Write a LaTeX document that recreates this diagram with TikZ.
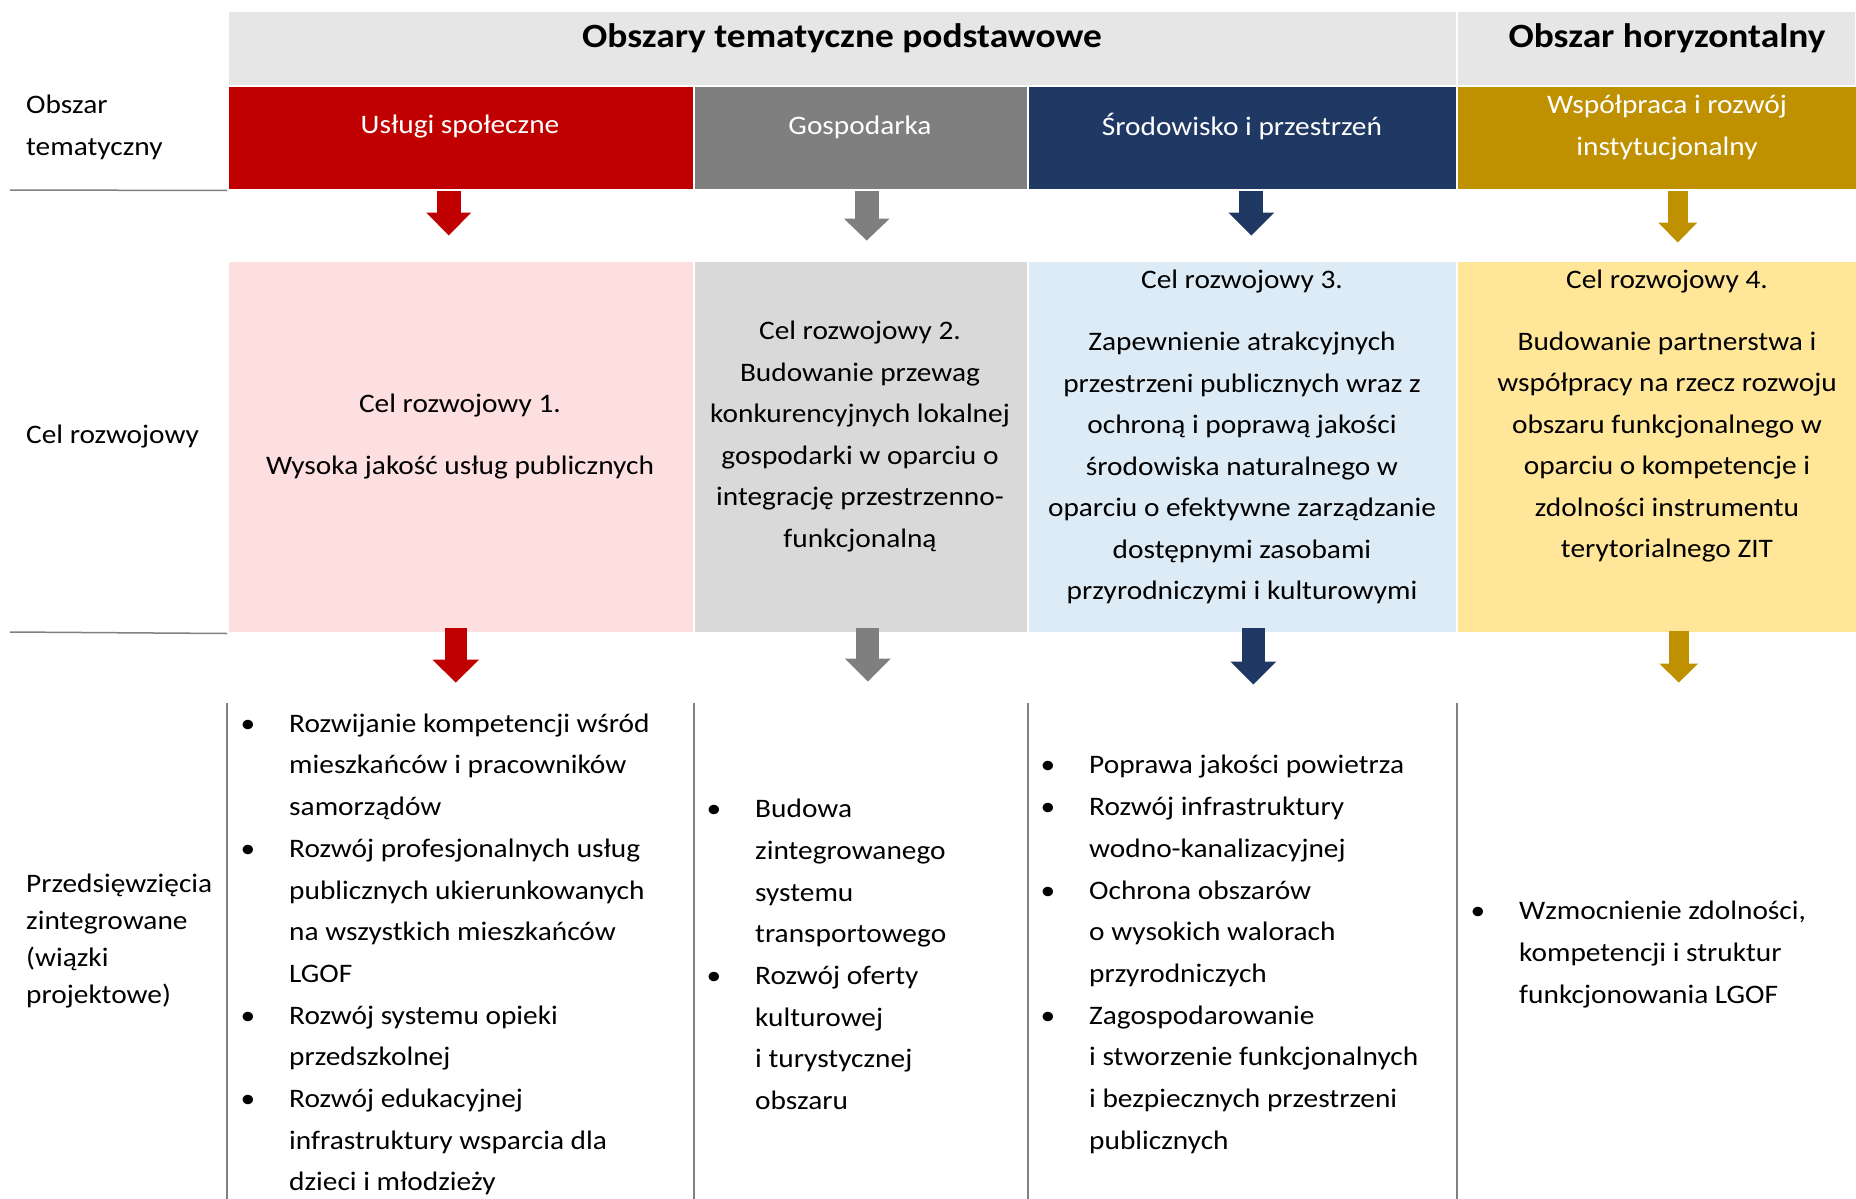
\documentclass[tikz,border=0pt]{standalone}
\usepackage{fontspec}
\setmainfont[FakeStretch=1.1]{Carlito}
\usetikzlibrary{arrows.meta}

\definecolor{hdgray}{HTML}{E6E6E6}
\definecolor{usred}{HTML}{C00000}
\definecolor{gogray}{HTML}{7F7F7F}
\definecolor{srnavy}{HTML}{203864}
\definecolor{wpgold}{HTML}{BF9000}
\definecolor{uslight}{HTML}{FDDFE0}
\definecolor{golight}{HTML}{D9D9D9}
\definecolor{srlight}{HTML}{DDEBF7}
\definecolor{wplight}{HTML}{FFE699}
\definecolor{rulegray}{HTML}{808080}

\newcommand{\itm}{\llap{\textbullet\hspace{34pt}}}

\tikzset{
  cell/.style={draw=white, line width=1.5pt, anchor=north west, inner sep=0pt},
  txt/.style={font=\fontsize{26.7pt}{41.5pt}\selectfont, align=center, inner sep=0pt},
  head/.style={font=\fontsize{34pt}{40pt}\selectfont\bfseries, inner sep=0pt},
  lst/.style={font=\fontsize{26.7pt}{41.7pt}\selectfont, align=left, inner sep=0pt, anchor=west},
  rule/.style={draw=rulegray, line width=1.5pt},
  blk/.style n args={4}{draw=#1, line width=#2, -{Triangle[width=#3, length=#4, line width=0pt]}}
}

\begin{document}
\begin{tikzpicture}[x=1pt, y=-1pt]
\useasboundingbox (0,0) rectangle (1856,1199);

% naglowki
\node[cell, fill=hdgray, minimum width=1229pt, minimum height=74pt] (bp) at (227,11) {};
\node[cell, fill=hdgray, minimum width=399pt, minimum height=74pt] (bh) at (1456,11) {};
\node[head] (tbp) at (842,38) {Obszary tematyczne podstawowe};
\node[head] (tbh) at (1667,38) {Obszar horyzontalny};

% obszary tematyczne
\node[cell, fill=usred, minimum width=466pt, minimum height=103pt] (us) at (227,86) {};
\node[cell, fill=gogray, minimum width=334pt, minimum height=103pt] (go) at (693,86) {};
\node[cell, fill=srnavy, minimum width=429pt, minimum height=103pt] (sr) at (1027,86) {};
\node[cell, fill=wpgold, minimum width=400pt, minimum height=103pt] (wp) at (1456,86) {};
\node[txt, text=white] (tus) at (460,127) {Usługi społeczne};
\node[txt, text=white] (tgo) at (860,127) {Gospodarka};
\node[txt, text=white] (tsr) at (1242,127) {Środowisko i przestrzeń};
\node[txt, text=white] (twp) at (1667,127.5) {Współpraca i rozwój\\instytucjonalny};

% cele rozwojowe
\node[cell, fill=uslight, minimum width=466pt, minimum height=372pt] (c1) at (227,260) {};
\node[cell, fill=golight, minimum width=334pt, minimum height=372pt] (c2) at (693,260) {};
\node[cell, fill=srlight, minimum width=429pt, minimum height=372pt] (c3) at (1027,260) {};
\node[cell, fill=wplight, minimum width=400pt, minimum height=372pt] (c4) at (1456,260) {};
\node[txt] (tc1) at (460,436.5) {Cel rozwojowy 1.\\[20.5pt]Wysoka jakość usług publicznych};
\node[txt] (tc2) at (860,436.5) {Cel rozwojowy 2.\\Budowanie przewag\\konkurencyjnych lokalnej\\gospodarki w oparciu o\\integrację przestrzenno-\\funkcjonalną};
\node[txt] (tc3) at (1242,437) {Cel rozwojowy 3.\\[20.5pt]Zapewnienie atrakcyjnych\\przestrzeni publicznych wraz z\\ochroną i poprawą jakości\\środowiska naturalnego w\\oparciu o efektywne zarządzanie\\dostępnymi zasobami\\przyrodniczymi i kulturowymi};
\node[txt] (tc4) at (1667,416) {Cel rozwojowy 4.\\[20.5pt]Budowanie partnerstwa i\\współpracy na rzecz rozwoju\\obszaru funkcjonalnego w\\oparciu o kompetencje i\\zdolności instrumentu\\terytorialnego ZIT};

% strzalki
\draw[blk={usred}{24pt}{45pt}{23pt}] ([xshift=-12pt]us.south) -- ++(0,45);
\draw[blk={gogray}{24pt}{46pt}{22pt}] ([xshift=6pt]go.south) -- ++(0,50);
\draw[blk={srnavy}{24pt}{46pt}{23pt}] ([xshift=9pt]sr.south) -- ++(0,45);
\draw[blk={wpgold}{20pt}{39pt}{20pt}] ([xshift=21pt]wp.south) -- ++(0,52);
\draw[blk={usred}{22pt}{47pt}{23pt}] ([xshift=-5pt,yshift=6pt]c1.south) -- ++(0,55);
\draw[blk={gogray}{23pt}{46pt}{23pt}] ([xshift=7pt,yshift=6pt]c2.south) -- ++(0,54);
\draw[blk={srnavy}{23pt}{46pt}{23pt}] ([xshift=11pt,yshift=6pt]c3.south) -- ++(0,57);
\draw[blk={wpgold}{20pt}{39pt}{19pt}] ([xshift=22pt,yshift=3pt]c4.south) -- ++(0,52);

% lewa kolumna
\node[txt, align=left, anchor=west] (lob) at (26,127.5) {Obszar\\tematyczny};
\node[txt, align=left, anchor=west] (lcel) at (26,436.5) {Cel rozwojowy};
\node[txt, align=left, anchor=west, font=\fontsize{26.7pt}{37pt}\selectfont] (lprz) at (26,941) {Przedsięwzięcia\\zintegrowane\\(wiązki\\projektowe)};
\draw[rule] (10,190) -- (us.south west);
\draw[rule] (10,632) -- (c1.south west);

% kreski pionowe
\draw[rule] (227,703) -- (227,1199);
\draw[rule] (694,703) -- (694,1199);
\draw[rule] (1028,703) -- (1028,1199);
\draw[rule] (1457,703) -- (1457,1199);

% przedsiewziecia
\node[lst] (p1) at (289,954.5) {\itm Rozwijanie kompetencji wśród\\mieszkańców i pracowników\\samorządów\\\itm Rozwój profesjonalnych usług\\publicznych ukierunkowanych\\na wszystkich mieszkańców\\LGOF\\\itm Rozwój systemu opieki\\przedszkolnej\\\itm Rozwój edukacyjnej\\infrastruktury wsparcia dla\\dzieci i młodzieży};
\node[lst] (p2) at (755,954.5) {\itm Budowa\\zintegrowanego\\systemu\\transportowego\\\itm Rozwój oferty\\kulturowej\\i turystycznej\\obszaru};
\node[lst] (p3) at (1089,954.5) {\itm Poprawa jakości powietrza\\\itm Rozwój infrastruktury\\wodno-kanalizacyjnej\\\itm Ochrona obszarów\\o wysokich walorach\\przyrodniczych\\\itm Zagospodarowanie\\i stworzenie funkcjonalnych\\i bezpiecznych przestrzeni\\publicznych};
\node[lst] (p4) at (1519,954.5) {\itm Wzmocnienie zdolności,\\kompetencji i struktur\\funkcjonowania LGOF};
\end{tikzpicture}
\end{document}
